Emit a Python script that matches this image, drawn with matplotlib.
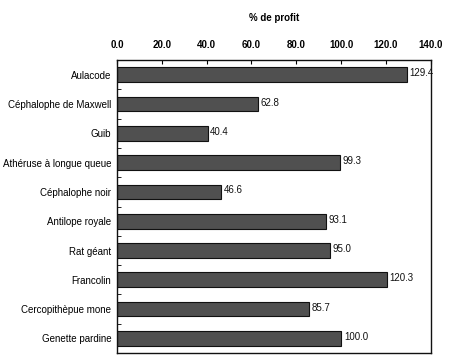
import matplotlib
matplotlib.use("Agg")
import matplotlib.pyplot as plt
from matplotlib import font_manager as fm

categories = ["Aulacode", "Céphalophe de Maxwell", "Guib", "Athéruse à longue queue",
              "Céphalophe noir", "Antilope royale", "Rat géant", "Francolin",
              "Cercopithèpue mone", "Genette pardine"]
values = [129.4, 62.8, 40.4, 99.3, 46.6, 93.1, 95.0, 120.3, 85.7, 100.0]
xticks = [0, 20, 40, 60, 80, 100, 120, 140]

def pick(bold):
    for f in fm.fontManager.ttflist:
        n = f.fname.lower()
        if 'liberationsans' in n.replace('-', '').replace('_', '') and 'narrow' not in n:
            isb = 'bold' in n
            isi = 'italic' in n
            if isb == bold and not isi:
                return f.fname
    return None

reg = pick(False)
bld = pick(True)
fp = fm.FontProperties(fname=reg, size=7) if reg else fm.FontProperties(family='DejaVu Sans', size=6.5)
fpb = fm.FontProperties(fname=bld, size=7) if bld else fm.FontProperties(family='DejaVu Sans', weight='bold', size=6.5)

fig = plt.figure(figsize=(4.55, 3.64), dpi=100)
ax = fig.add_axes([0.257, 0.030, 0.690, 0.805])

y = list(range(len(categories)))
ax.barh(y, values, height=0.5, color='#505050', edgecolor='#111111', linewidth=0.8)
for yi, v in zip(y, values):
    ax.text(v + 1.2, yi - 0.05, f"{v:.1f}", va='center', ha='left', fontproperties=fp, color='#111111')

ax.set_xlim(0, 140)
ax.set_ylim(len(categories) - 0.5, -0.5)
ax.set_yticks(y)
ax.set_yticklabels(categories, fontproperties=fp)
ax.set_yticks([i + 0.5 for i in range(len(categories) - 1)], minor=True)
ax.tick_params(axis='y', which='major', length=0, pad=4)
ax.tick_params(axis='y', which='minor', length=3, direction='in')
ax.xaxis.tick_top()
ax.set_xticks(xticks)
ax.set_xticklabels([f"{t:.1f}" for t in xticks], fontproperties=fpb)
ax.tick_params(axis='x', direction='in', length=3, pad=7)
ax.xaxis.set_label_position('top')
ax.set_xlabel("% de profit", fontproperties=fpb, labelpad=14)
for s in ax.spines.values():
    s.set_linewidth(1.0)
    s.set_color('#111111')

fig.savefig("out.png", dpi=100)
